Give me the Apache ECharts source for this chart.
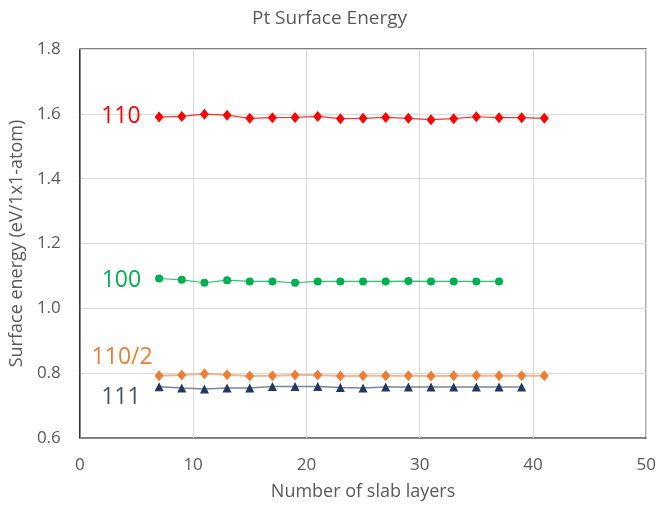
<!DOCTYPE html>
<html>
<head>
<meta charset="utf-8">
<script src="https://cdn.jsdelivr.net/npm/echarts@6/dist/echarts.min.js"></script>
<style>html,body{margin:0;padding:0;background:#fff}#c{width:659px;height:506px}</style>
</head>
<body>
<div id="c"></div>
<script>
var layers110 = [7,9,11,13,15,17,19,21,23,25,27,29,31,33,35,37,39,41];
var layers100 = [7,9,11,13,15,17,19,21,23,25,27,29,31,33,35,37];
var layers111 = [7,9,11,13,15,17,19,21,23,25,27,29,31,33,35,37,39];
var e110 = [1.590,1.592,1.599,1.596,1.586,1.588,1.589,1.592,1.585,1.586,1.589,1.586,1.582,1.585,1.591,1.588,1.588,1.586];
var e100 = [1.092,1.088,1.079,1.087,1.083,1.083,1.079,1.083,1.083,1.083,1.083,1.084,1.083,1.083,1.083,1.083];
var e110half = [0.792,0.794,0.798,0.795,0.791,0.792,0.794,0.794,0.791,0.792,0.792,0.792,0.791,0.792,0.793,0.792,0.792,0.792];
var e111 = [0.758,0.754,0.751,0.754,0.754,0.759,0.759,0.759,0.756,0.754,0.757,0.757,0.757,0.757,0.757,0.757,0.757];
var seriesNames = ['110','100','110/2','111'];
var xTicks = {min:0, max:50, interval:10};
var yTicks = {min:0.6, max:1.8, interval:0.2};

function pairs(xs, ys){ return xs.map(function(x,i){ return [x, ys[i]]; }); }
function withLabel(data, name, color, dist, off){
  data[0] = {value: data[0], label:{show:true, formatter:name, position:'left', distance:dist, offset:off,
    color:color, fontSize:23, fontFamily:'Open Sans'}};
  return data;
}
var FONT = 'Open Sans';
var chart = echarts.init(document.getElementById('c'));
chart.setOption({
  animation:false,
  title:{text:'Pt Surface Energy', left:'center', top:4,
    textStyle:{fontFamily:FONT, fontSize:19, fontWeight:'normal', color:'#595959'}},
  grid:{left:78, right:10, top:49, bottom:67, show:true, borderColor:'#000', borderWidth:1.2, containLabel:false},
  xAxis:{type:'value', min:xTicks.min, max:xTicks.max, interval:xTicks.interval,
    name:'Number of slab layers', nameLocation:'middle', nameGap:45,
    nameTextStyle:{fontFamily:FONT, fontSize:18, color:'#595959'},
    axisLine:{show:true, lineStyle:{color:'#868686', width:1}},
    axisTick:{show:false},
    axisLabel:{fontFamily:FONT, fontSize:17, color:'#595959', margin:19},
    splitLine:{show:true, lineStyle:{color:'#d9d9d9', width:1}}},
  yAxis:{type:'value', min:yTicks.min, max:yTicks.max, interval:yTicks.interval,
    name:'Surface energy (eV/1x1-atom)', nameLocation:'middle', nameGap:50,
    nameTextStyle:{fontFamily:FONT, fontSize:18, color:'#595959'},
    axisLine:{show:true, lineStyle:{color:'#868686', width:1}},
    axisTick:{show:false},
    axisLabel:{fontFamily:FONT, fontSize:17, color:'#595959', margin:19,
      formatter:function(v){ return v.toFixed(1); }},
    splitLine:{show:true, lineStyle:{color:'#d9d9d9', width:1}}},
  series:[
    {name:seriesNames[0], type:'line', data:withLabel(pairs(layers110,e110), seriesNames[0], '#ff0000', 14, [0,-1]),
      symbol:'diamond', symbolSize:[9,11], itemStyle:{color:'#ff0000'},
      lineStyle:{color:'#ff0000', width:1.2, opacity:0.8}},
    {name:seriesNames[1], type:'line', data:withLabel(pairs(layers100,e100), seriesNames[1], '#00b050', 14, [0,2]),
      symbol:'circle', symbolSize:8, itemStyle:{color:'#00b050'},
      lineStyle:{color:'#00b050', width:1.2, opacity:0.8}},
    {name:seriesNames[2], type:'line', data:withLabel(pairs(layers110,e110half), seriesNames[2], '#ed7d31', 2, [0,-18]),
      symbol:'diamond', symbolSize:[9,11], itemStyle:{color:'#ed7d31'},
      lineStyle:{color:'#f4a470', width:2, opacity:0.8}},
    {name:seriesNames[3], type:'line', data:withLabel(pairs(layers111,e111), seriesNames[3], '#44546a', 14, [0,11]),
      symbol:'triangle', symbolSize:[9,9], itemStyle:{color:'#203864'},
      lineStyle:{color:'#5b6f94', width:1.5, opacity:0.85}}
  ]
});
</script>
</body>
</html>
